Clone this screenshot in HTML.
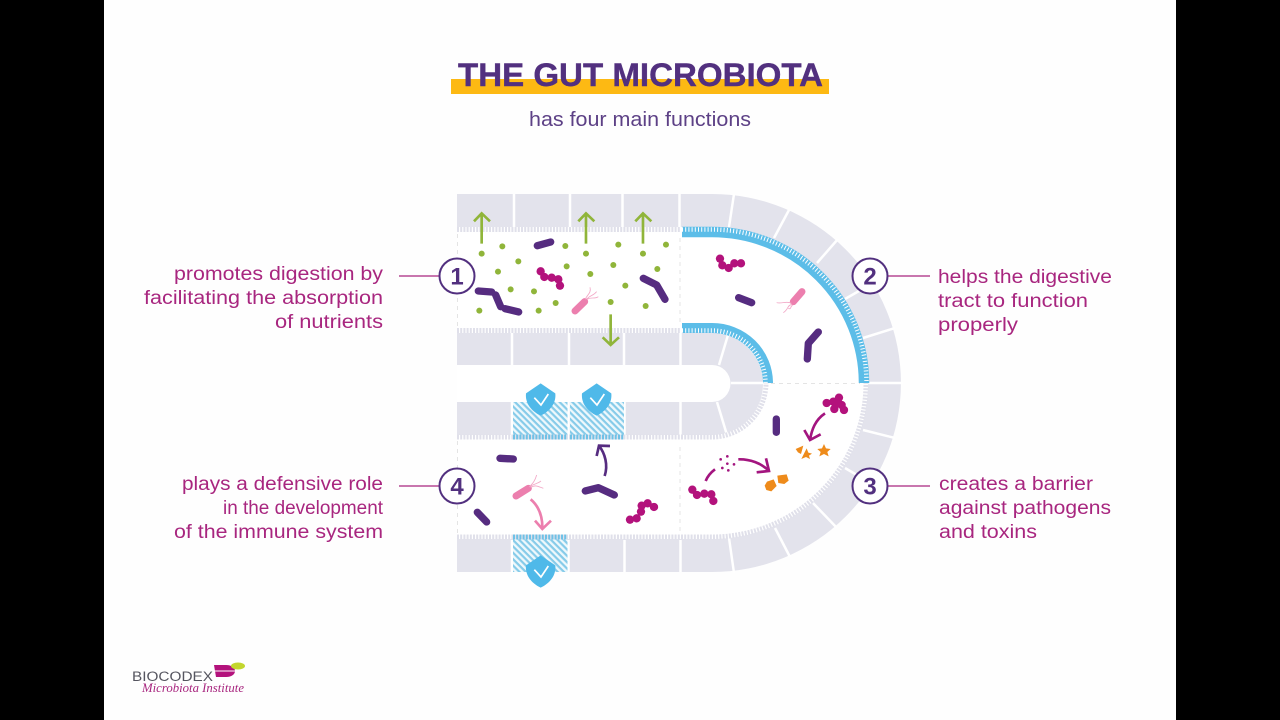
<!DOCTYPE html>
<html><head><meta charset="utf-8"><style>
html,body{margin:0;padding:0;background:#000;width:1280px;height:720px;overflow:hidden}
svg{display:block}
text{font-family:"Liberation Sans",sans-serif}
.l{font-size:19px;fill:#a8267f}
.n{font-size:24px;font-weight:bold;fill:#52307f}
.c{fill:#fff;stroke:#52307f;stroke-width:2}
.g{stroke:#90b53a;stroke-width:8;fill:none}
.p{stroke:#562c80;stroke-width:22;stroke-linecap:round;stroke-linejoin:round;fill:none}
.pk{stroke:#ec7fae;stroke-width:21;stroke-linecap:round;fill:none}
.fl{stroke:#f2a7c6;stroke-width:2.500;fill:none}
.m circle{fill:#b3127c;r:12.500px}
.d circle{fill:#90b53a;r:9px}
</style></head><body>
<svg width="1280" height="720" viewBox="0 0 1280 720" xmlns="http://www.w3.org/2000/svg">
<defs>
<pattern id="h" width="4.500" height="4.500" patternUnits="userSpaceOnUse" patternTransform="rotate(45)">
<rect width="4.500" height="4.500" fill="#eef8fc"/><rect width="4.500" height="2.200" fill="#86cbe9"/>
</pattern>
</defs>
<rect x="0" y="0" width="1280" height="720" fill="#000"/>
<rect x="104" y="0" width="1072" height="720" fill="#fefefe"/>

<!-- title -->
<rect x="451" y="79" width="378" height="15" fill="#fdb913"/>
<text x="458" y="86" font-size="32" font-weight="bold" fill="#52307f" stroke="#52307f" stroke-width=".4" textLength="365" lengthAdjust="spacingAndGlyphs">THE GUT MICROBIOTA</text>
<text x="529" y="126" font-size="20" fill="#5d4186" textLength="222" lengthAdjust="spacingAndGlyphs">has four main functions</text>

<!-- walls -->
<path d="M457 194H712A189 189 0 0 1 712 572H457Z" fill="#e3e3ec"/>
<path d="M457 227H712A156 156 0 0 1 712 539H457Z" fill="#fff"/>
<path d="M457 333H712A51 51 0 0 1 712 435H457Z" fill="#e3e3ec"/>
<path d="M457 365H712A18.500 18.500 0 0 1 712 402H457Z" fill="#fff"/>

<!-- separators -->
<g stroke="#fff" stroke-width="2.500" fill="none">
<path d="M514 194V228M570 194V228M622.500 194V228M679.500 194V228"/>
<path d="M512 333V365M569 333V365M624 333V365M680.500 333V365"/>
<path d="M512 402V436M568.500 402V436M624.500 402V436M680.500 402V436"/>
<path d="M512 540V572M568.500 540V572M624.500 540V572M680.500 540V572"/>
<path d="M729 227L734 194M774 238L789 210M817 263L838 239M845 299L873 283M863 338L895 328M731 383H903M863 430L895 438M845 468L872 484M813 503L837 528M775 528L790 557M729 538L734 573"/>
<path d="M728 335L719 365M717 402L727 435"/>
</g>

<!-- hatch -->
<rect x="513" y="402" width="54.500" height="34" fill="url(#h)"/>
<rect x="570" y="402" width="54" height="34" fill="url(#h)"/>
<rect x="513" y="539" width="54.500" height="33" fill="url(#h)"/>

<!-- combs -->
<g fill="none" stroke="#e0e0ea" stroke-width="5" stroke-dasharray="2 1.200">
<path d="M457 229.500H680"/>
<path d="M457 330.500H680"/>
<path d="M457 437H712A54 54 0 0 0 766 383" />
<path d="M457 537H712A154 154 0 0 0 866 383"/>
</g>
<g fill="none" stroke="#6fc1e6" stroke-width="5" stroke-dasharray="2 1.200">
<path d="M513 437H567.500M570 437H624M513 537H567.500"/>
</g>

<!-- blue bands -->
<path d="M682 232H712A152 151 0 0 1 864 383" fill="none" stroke="#5cbde8" stroke-width="10.500"/>
<path d="M682 229.500H712A154.500 153.500 0 0 1 866.500 383" fill="none" stroke="#fff" stroke-width="4.500" stroke-dasharray="1 2.200"/>
<path d="M682 328H712A56 55 0 0 1 768 383" fill="none" stroke="#5cbde8" stroke-width="10"/>
<path d="M682 330.500H712A53.500 52.500 0 0 1 765.500 383" fill="none" stroke="#fff" stroke-width="4.500" stroke-dasharray="1 2.200"/>

<!-- dashed -->
<g fill="none" stroke="#e4e4e4" stroke-width="1" stroke-dasharray="4 4">
<path d="M457.500 234V328M680 238V322M771 383.500H860M457.500 441V535M680 447V532"/>
</g>

<!-- section 1 -->
<g transform="translate(440 180) scale(.3333)">
<g class="d">
<circle cx="125" cy="221" r="9"/><circle cx="187" cy="199" r="9"/><circle cx="235" cy="244" r="9"/><circle cx="174" cy="275" r="9"/><circle cx="212" cy="328" r="9"/><circle cx="118" cy="392" r="9"/><circle cx="282" cy="334" r="9"/><circle cx="296" cy="392" r="9"/><circle cx="347" cy="369" r="9"/><circle cx="376" cy="198" r="9"/><circle cx="380" cy="259" r="9"/><circle cx="438" cy="221" r="9"/><circle cx="451" cy="282" r="9"/><circle cx="520" cy="255" r="9"/><circle cx="535" cy="194" r="9"/><circle cx="556" cy="317" r="9"/><circle cx="512" cy="366" r="9"/><circle cx="609" cy="221" r="9"/><circle cx="678" cy="194" r="9"/><circle cx="652" cy="267" r="9"/><circle cx="617" cy="378" r="9"/>
</g>
<path class="g" d="M125 191V100M102 124L125 100L150 124M438 191V100M415 124L438 100L463 124M609 191V100M586 124L609 100L634 124M512 403V495M488 472L512 495L537 472"/>
<path class="p" d="M115 333L155 336M167 345L182 380M195 386L236 396M292 197L332 186M610 295L650 315L675 358"/>
<g class="m"><circle cx="302" cy="274" r="12.500"/><circle cx="313" cy="291" r="12.500"/><circle cx="335" cy="293" r="12.500"/><circle cx="355" cy="298" r="12.500"/><circle cx="360" cy="317" r="12.500"/></g>
<path class="pk" d="M405 393L434 365"/>
<path class="fl" d="M436 358C440 345 455 340 450 322M440 358C450 345 460 348 470 335M442 358C452 350 465 358 475 350"/>
</g>

<!-- section 2 -->
<g transform="translate(670 180) scale(.3333)">
<g class="m"><circle cx="150" cy="236" r="12.500"/><circle cx="157" cy="256" r="12.500"/><circle cx="176" cy="264" r="12.500"/><circle cx="193" cy="250" r="12.500"/><circle cx="213" cy="250" r="12.500"/></g>
<path class="p" d="M206 353L245 368M445 456L415 490L412 537"/>
<path class="pk" d="M370 365L396 335"/>
<path class="fl" d="M365 370C350 362 335 372 320 368M364 374C352 375 355 390 340 398M368 376C360 378 365 390 355 385"/>
</g>

<!-- section 3 -->
<g transform="translate(670 375) scale(.3333)">
<path class="p" d="M319 132V172"/>
<g class="m"><circle cx="470" cy="84" r="12.500"/><circle cx="490" cy="80" r="12.500"/><circle cx="507" cy="68" r="12.500"/><circle cx="515" cy="90" r="12.500"/><circle cx="522" cy="105" r="12.500"/><circle cx="493" cy="102" r="12.500"/><circle cx="500" cy="85" r="12.500"/></g>
<path d="M465 115C435 135 425 165 420 195M403 165L420 195L452 178" fill="none" stroke="#a3157f" stroke-width="8"/>
<path d="M462 207L468 220L482 222L472 231L476 244L462 237L448 244L452 231L442 222L456 220Z" fill="#ee8b1b"/>
<path d="M410 220L415 233L426 236L417 242L420 252L408 246L394 252L402 236Z" fill="#ee8b1b"/>
<path d="M400 212L393 237L384 232L377 222Z" fill="#ee8b1b"/>
<path d="M291 320L311 313L320 333L304 349L289 345L284 332Z" fill="#ee8b1b"/>
<path d="M322 302L350 298L356 317L343 327L325 324Z" fill="#ee8b1b"/>
<g class="m"><circle cx="67" cy="344" r="12.500"/><circle cx="81" cy="360" r="12.500"/><circle cx="103" cy="356" r="12.500"/><circle cx="124" cy="358" r="12.500"/><circle cx="130" cy="378" r="12.500"/></g>
<path d="M107 318C113 303 123 292 135 283" fill="none" stroke="#a3157f" stroke-width="8"/>
<g fill="#a3157f"><circle cx="152" cy="253" r="4"/><circle cx="172" cy="244" r="4"/><circle cx="172" cy="266" r="4"/><circle cx="192" cy="268" r="4"/><circle cx="157" cy="279" r="4"/><circle cx="175" cy="286" r="4"/></g>
<path d="M205 253C240 252 275 265 297 288M288 250L297 288L260 292" fill="none" stroke="#a3157f" stroke-width="8"/>
</g>

<!-- section 4 -->
<g transform="translate(440 375) scale(.3333)">
<path class="p" d="M180 250L220 252M112 412L140 441M436 348L475 338L523 360"/>
<path d="M494 303C505 270 495 235 477 212M470 243L477 212L510 213" fill="none" stroke="#562c80" stroke-width="8"/>
<path class="pk" d="M228 363L265 340"/>
<path class="fl" d="M268 336C278 325 285 318 290 300M272 338C285 328 295 335 310 340M270 335C282 325 292 328 303 318"/>
<path d="M272 373C298 395 308 425 307 462M285 437L307 462L333 437" fill="none" stroke="#ec7fae" stroke-width="8"/>
<g class="m"><circle cx="570" cy="434" r="12.500"/><circle cx="590" cy="430" r="12.500"/><circle cx="603" cy="410" r="12.500"/><circle cx="605" cy="392" r="12.500"/><circle cx="623" cy="385" r="12.500"/><circle cx="642" cy="396" r="12.500"/></g>
<g fill="#4fb9e9">
<path d="M302 25L346 55C349 85 330 108 302 122C274 108 255 85 258 55Z"/>
<path d="M470 25L514 55C517 85 498 108 470 122C442 108 423 85 426 55Z"/>
<path d="M302 541L346 571C349 601 330 624 302 638C274 624 255 601 258 571Z"/>
</g>
<path d="M283 68L303 90L325 57M451 68L471 90L493 57M283 584L303 606L325 573" fill="none" stroke="#fff" stroke-width="5"/>
</g>

<!-- connectors + badges -->
<g stroke="#a8267f" stroke-width="1.300" fill="none">
<path d="M399 276H441M887 276H930M399 486H441M887 486H930"/>
</g>
<circle class="c" cx="457" cy="276" r="17.500"/>
<circle class="c" cx="870" cy="276" r="17.500"/>
<circle class="c" cx="870" cy="486" r="17.500"/>
<circle class="c" cx="457" cy="486" r="17.500"/>
<text class="n" x="457" y="284.500" text-anchor="middle">1</text>
<text class="n" x="870" y="284.500" text-anchor="middle">2</text>
<text class="n" x="870" y="494.500" text-anchor="middle">3</text>
<text class="n" x="457" y="494.500" text-anchor="middle">4</text>

<!-- labels -->
<text class="l" x="174" y="280" textLength="209" lengthAdjust="spacingAndGlyphs">promotes digestion by</text>
<text class="l" x="144" y="304" textLength="239" lengthAdjust="spacingAndGlyphs">facilitating the absorption</text>
<text class="l" x="275" y="328" textLength="108" lengthAdjust="spacingAndGlyphs">of nutrients</text>
<text class="l" x="938" y="283" textLength="174" lengthAdjust="spacingAndGlyphs">helps the digestive</text>
<text class="l" x="938" y="307" textLength="150" lengthAdjust="spacingAndGlyphs">tract to function</text>
<text class="l" x="938" y="331" textLength="80" lengthAdjust="spacingAndGlyphs">properly</text>
<text class="l" x="182" y="490" textLength="201" lengthAdjust="spacingAndGlyphs">plays a defensive role</text>
<text class="l" x="223" y="514" textLength="160" lengthAdjust="spacingAndGlyphs">in the development</text>
<text class="l" x="174" y="538" textLength="209" lengthAdjust="spacingAndGlyphs">of the immune system</text>
<text class="l" x="939" y="490" textLength="154" lengthAdjust="spacingAndGlyphs">creates a barrier</text>
<text class="l" x="939" y="514" textLength="172" lengthAdjust="spacingAndGlyphs">against pathogens</text>
<text class="l" x="939" y="538" textLength="98" lengthAdjust="spacingAndGlyphs">and toxins</text>

<!-- logo -->
<text x="132" y="681" font-size="13.500" fill="#55555f" textLength="81" lengthAdjust="spacingAndGlyphs">BIOCODEX</text>
<path d="M214 665H226C232 665 235 668 235 671C235 674 232 677 226 677H216Z" fill="#b3127c"/>
<path d="M214 671H235" stroke="#fff" stroke-width="1"/>
<ellipse cx="238" cy="666" rx="7" ry="3.500" fill="#c3d62e"/>
<text x="142" y="692" font-size="12.500" font-style="italic" fill="#a8267f" style="font-family:'Liberation Serif',serif" textLength="102" lengthAdjust="spacingAndGlyphs">Microbiota Institute</text>
</svg>
</body></html>
